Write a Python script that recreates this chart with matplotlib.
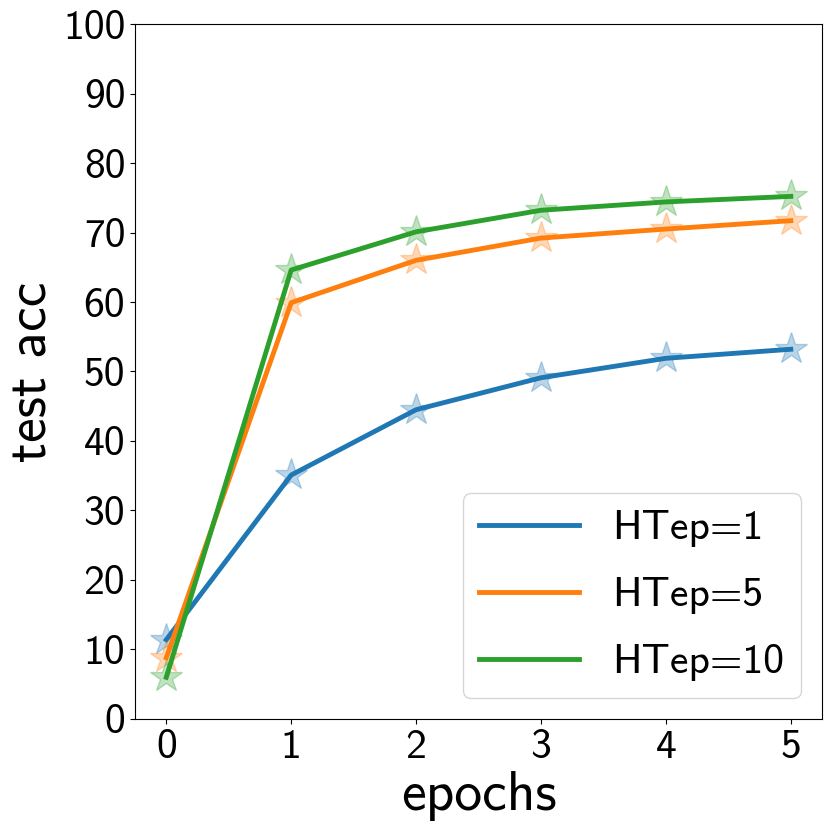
import matplotlib
matplotlib.use("Agg")
import matplotlib.pyplot as plt

plt.rcParams['font.family'] = ['cmss10', 'DejaVu Sans']
plt.rcParams['axes.unicode_minus'] = False
plt.rcParams['axes.formatter.use_mathtext'] = False

epochs = [0, 1, 2, 3, 4, 5]
acc_ht1 = [11.4, 35.1, 44.5, 49.1, 51.9, 53.2]
acc_ht5 = [8.8, 59.9, 66.0, 69.2, 70.5, 71.7]
acc_ht10 = [6.0, 64.6, 70.1, 73.2, 74.4, 75.2]
labels = ["HTep=1", "HTep=5", "HTep=10"]
colors = ["tab:blue", "tab:orange", "tab:green"]


def main():
    fig = plt.figure(figsize=(8.31, 8.31), dpi=100)
    ax = fig.add_axes([0.1625, 0.1348, 0.8267, 0.8363])

    for acc, lab, c in zip([acc_ht1, acc_ht5, acc_ht10], labels, colors):
        ax.plot(epochs, acc, color=c, lw=3.5, label=lab)
        ax.plot(epochs, acc, '*', color=c, markersize=24, alpha=0.3)

    ax.set_ylim(0, 100)
    ax.set_yticks(range(0, 101, 10))
    ax.set_xticks(epochs)
    ax.tick_params(labelsize=30)
    ax.set_xlabel('epochs', fontsize=40)
    ax.set_ylabel('test acc', fontsize=40)
    ax.legend(loc='lower right', fontsize=30, handlelength=2.4,
              labelspacing=0.72, borderaxespad=0.5)

    fig.savefig('out.png', dpi=100)


if __name__ == '__main__':
    main()
